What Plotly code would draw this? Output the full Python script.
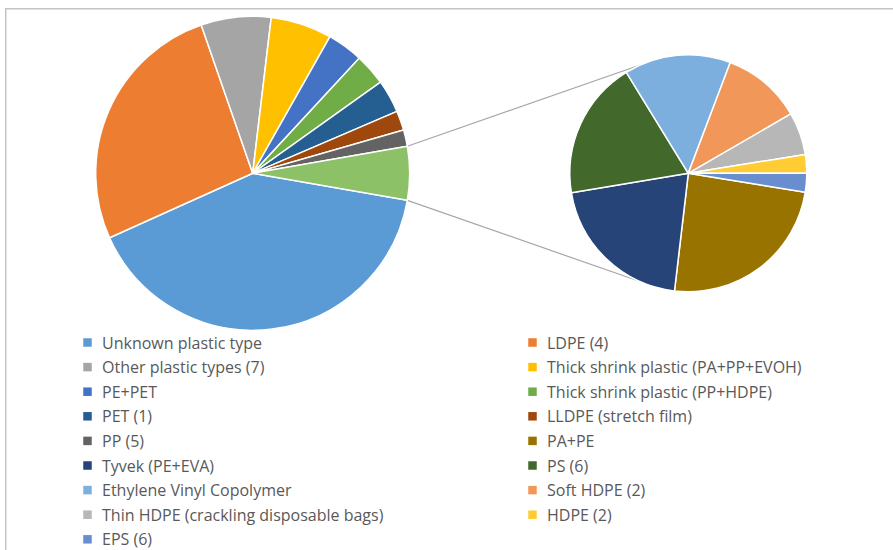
import math
import plotly.graph_objects as go

# ---------------- data ----------------
main_labels = [
    "Unknown plastic type",
    "LDPE (4)",
    "Other plastic types (7)",
    "Thick shrink plastic (PA+PP+EVOH)",
    "PE+PET",
    "Thick shrink plastic (PP+HDPE)",
    "PET (1)",
    "LLDPE (stretch film)",
    "PP (5)",
]
main_values = [40.5, 26.4, 7.2, 6.3, 3.7, 3.25, 3.4, 2.0, 1.7]
main_colors = ["#5B9BD5", "#ED7D31", "#A5A5A5", "#FFC000", "#4472C4",
               "#70AD47", "#255E91", "#9E480E", "#636363"]

sub_labels = [
    "PA+PE",
    "Tyvek (PE+EVA)",
    "PS (6)",
    "Ethylene Vinyl Copolymer",
    "Soft HDPE (2)",
    "Thin HDPE (crackling disposable bags)",
    "HDPE (2)",
    "EPS (6)",
]
sub_values = [1.34, 1.13, 1.04, 0.80, 0.60, 0.32, 0.14, 0.14]
sub_colors = ["#997300", "#264478", "#43682B", "#7CAFDD", "#F1975A",
              "#B7B7B7", "#FFCD33", "#698ED0"]

other_label = "Other"
other_color = "#8CC168"

# ---------------- layout helpers ----------------
W, H = 893, 550
def px(x):
    return x / W
def py(y):
    return 1 - y / H

c1x, c1y, r1 = 252.7, 173.3, 157.0
c2x, c2y, r2 = 688.3, 173.3, 118.5

other_value = sum(sub_values)
left_values = main_values + [other_value]
left_total = sum(left_values)
other_half_deg = other_value / left_total * 180.0

left_rotation = 90 + other_half_deg
right_rotation = 90 + sub_values[-1] / sum(sub_values) * 360.0

fig = go.Figure()

fig.add_trace(go.Pie(
    labels=main_labels + [other_label],
    values=left_values,
    sort=False,
    direction="clockwise",
    rotation=left_rotation,
    marker=dict(colors=main_colors + [other_color], line=dict(color="white", width=1.5)),
    textinfo="none",
    hoverinfo="label+value",
    showlegend=False,
    domain=dict(x=[px(c1x - r1), px(c1x + r1)], y=[py(c1y + r1), py(c1y - r1)]),
))

fig.add_trace(go.Pie(
    labels=sub_labels,
    values=sub_values,
    sort=False,
    direction="clockwise",
    rotation=right_rotation,
    marker=dict(colors=sub_colors, line=dict(color="white", width=1.5)),
    textinfo="none",
    hoverinfo="label+value",
    showlegend=False,
    domain=dict(x=[px(c2x - r2), px(c2x + r2)], y=[py(c2y + r2), py(c2y - r2)]),
))

shapes = []
# chart border (right/bottom edges fall outside the picture)
shapes.append(dict(type="rect", xref="paper", yref="paper",
                   x0=px(5.75), x1=px(W + 10), y0=py(H + 10), y1=py(8.75),
                   line=dict(color="#C4C4C4", width=1.5), fillcolor="rgba(0,0,0,0)",
                   layer="below"))

# connector lines between the "Other" slice and the second pie
conn_deg = 114.0
for s in (1, -1):
    a = math.radians(other_half_deg * s)
    b = math.radians(conn_deg * s)
    shapes.append(dict(type="line", xref="paper", yref="paper",
                       x0=px(c1x + r1 * math.cos(a)), y0=py(c1y - r1 * math.sin(a)),
                       x1=px(c2x + r2 * math.cos(b)), y1=py(c2y - r2 * math.sin(b)),
                       line=dict(color="#A6A6A6", width=1.2), layer="below"))

# legend (two columns, row-major)
leg_labels = main_labels + sub_labels
leg_colors = main_colors + sub_colors
col_marker_x = [87.5, 532.5]
col_text_x = [100.0, 544.5]
row0_y, row_dy, msz = 342.5, 24.6, 8.5
annotations = []
for k, (lab, col) in enumerate(zip(leg_labels, leg_colors)):
    r, c = divmod(k, 2)
    yc = row0_y + r * row_dy
    xm = col_marker_x[c]
    shapes.append(dict(type="rect", xref="paper", yref="paper",
                       x0=px(xm - msz / 2), x1=px(xm + msz / 2),
                       y0=py(yc + msz / 2), y1=py(yc - msz / 2),
                       line=dict(width=0), fillcolor=col))
    annotations.append(dict(xref="paper", yref="paper", x=px(col_text_x[c]), y=py(yc),
                            xanchor="left", yanchor="middle", showarrow=False,
                            text=lab, font=dict(family="Open Sans", size=16, color="#595959")))

fig.update_layout(
    width=W, height=H,
    margin=dict(l=0, r=0, t=0, b=0),
    paper_bgcolor="white",
    plot_bgcolor="white",
    shapes=shapes,
    annotations=annotations,
    showlegend=False,
)

fig.write_html("out.html")
